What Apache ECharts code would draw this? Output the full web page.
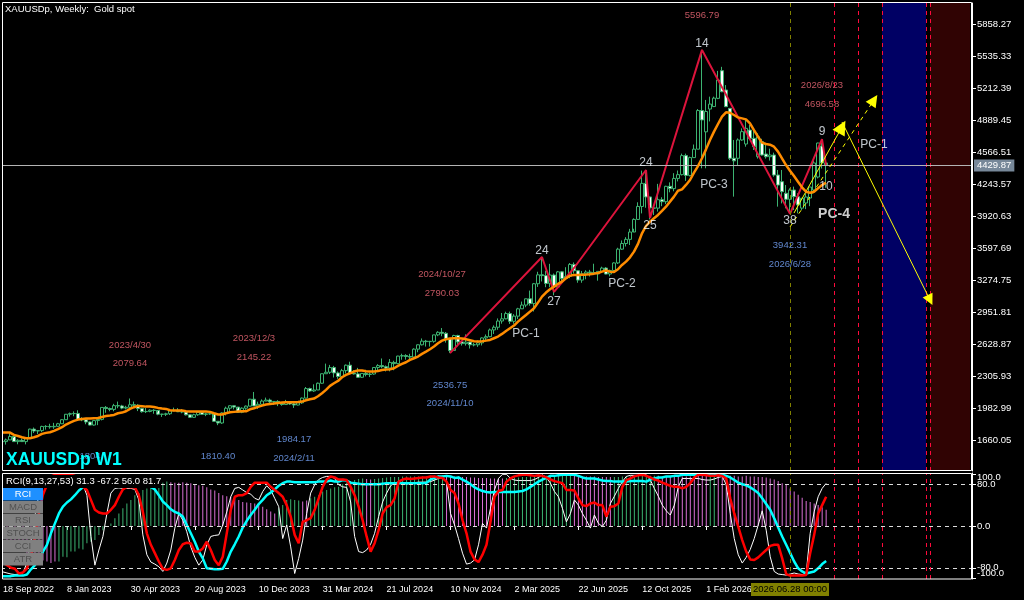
<!DOCTYPE html>
<html><head><meta charset="utf-8"><style>html,body{margin:0;padding:0;background:#000}#c{width:1024px;height:600px}</style>
<script src="https://cdn.jsdelivr.net/npm/echarts@6/dist/echarts.min.js"></script></head><body><div id="c"></div>
<script>
const weekCount=243;
const priceTicks=[5858.27,5535.33,5212.39,4889.45,4566.51,4243.57,3920.63,3597.69,3274.75,2951.81,2628.87,2305.93,1982.99,1660.05];
const paneTicks=[80,0,-80];
const paneLimitTicks=[100,-100];
const lastPrice=4429.87;
const opens=[1643,1644,1661,1695,1644,1657,1644,1681,1770,1751,
1755,1797,1797,1793,1798,1824,1865,1920,1926,1928,
1865,1865,1842,1811,1856,1868,1989,1978,1969,2007,
2004,1982,1990,2016,2011,1977,1946,1948,1961,1958,
1921,1919,1925,1955,1961,1945,1943,1914,1889,1915,
1940,1919,1924,1925,1849,1832,1933,1981,2006,1992,
1940,1981,2002,2072,2004,2020,2053,2063,2045,2049,
2029,2018,2039,2024,2013,2035,2083,2179,2155,2165,
2233,2329,2344,2391,2337,2301,2360,2415,2334,2327,
2293,2332,2321,2326,2392,2411,2400,2386,2443,2431,
2507,2512,2503,2497,2577,2621,2658,2653,2656,2721,
2747,2737,2685,2563,2715,2650,2633,2648,2621,2621,
2640,2690,2703,2771,2798,2861,2883,2936,2858,2910,
2984,3022,3085,3037,3237,3327,3319,3240,3325,3205,
3357,3290,3310,3432,3368,3274,3337,3355,3350,3337,
3362,3395,3335,3371,3447,3586,3643,3685,3759,3886,
4017,4250,4113,4002,4000,4085,4065,4220,4197,4300,
4338,4530,4330,4510,4595,4985,4770,5000,5025,5108,
5387,5192,5007,4503,4503,4688,4647,4788,4704,4519,
4671,4546,4519,4536,4334,4267,4150,4089,4183,4116,
4000,4052,4102,4183,4314,4627,4456];
const highs=[1688,1675,1729,1682,1668,1675,1682,1774,1786,1760,
1804,1810,1824,1833,1833,1870,1922,1937,1949,1960,
1890,1870,1846,1858,1870,1990,2003,1987,2025,2048,
2015,2005,2079,2048,2022,1985,1983,1970,1971,1937,
1925,1935,1963,1987,1982,1972,1948,1915,1925,1953,
1945,1932,1947,1880,1841,1940,1997,2009,2004,1970,
1990,2008,2075,2145,2047,2070,2088,2078,2050,2062,
2036,2065,2050,2035,2040,2089,2195,2188,2222,2240,
2331,2431,2418,2408,2352,2378,2422,2450,2365,2388,
2335,2368,2340,2394,2425,2483,2412,2477,2460,2510,
2531,2526,2530,2585,2625,2685,2670,2660,2722,2758,
2790,2750,2680,2722,2722,2655,2726,2652,2640,2665,
2696,2725,2785,2817,2887,2942,2955,2956,2930,2994,
3057,3087,3168,3245,3358,3500,3368,3438,3340,3366,
3365,3404,3446,3452,3368,3366,3373,3377,3439,3363,
3409,3405,3379,3453,3600,3674,3707,3791,3897,4059,
4379,4381,4046,4020,4245,4110,4226,4260,4353,4380,
4550,4550,4520,4642,5000,5597,5092,5125,5125,5385,
5426,5242,5010,4688,4704,4805,4889,4839,4805,4755,
4700,4637,4600,4560,4385,4385,4233,4200,4217,4150,
4100,4150,4213,4480,4660,4696.58,4520];
const lows=[1638,1614,1660,1640,1617,1640,1616,1670,1730,1720,
1740,1765,1774,1773,1795,1824,1865,1896,1900,1861,
1850,1819,1808,1805,1810,1858,1935,1950,1950,1981,
1970,1969,1977,2000,1952,1936,1932,1940,1925,1910,
1893,1902,1912,1950,1942,1930,1908,1884,1884,1904,
1915,1901,1914,1846,1810,1823,1908,1953,1969,1933,
1931,1965,2001,2002,1974,2015,2053,2022,2014,2002,
2006,2020,2015,1984,2010,2025,2080,2146,2146,2165,
2228,2330,2326,2291,2277,2298,2332,2325,2321,2286,
2286,2302,2295,2319,2350,2385,2352,2353,2364,2425,
2470,2471,2471,2484,2546,2614,2603,2603,2642,2708,
2707,2643,2537,2561,2605,2613,2613,2583,2605,2600,
2614,2656,2697,2730,2772,2834,2878,2832,2833,2880,
2982,3000,3015,2957,3205,3260,3202,3202,3120,3205,
3245,3276,3293,3340,3247,3247,3282,3310,3325,3268,
3345,3332,3311,3352,3436,3578,3613,3628,3792,3884,
3947,4004,3886,3931,3965,4020,4040,4160,4170,4270,
4330,4275,4320,4510,4595,4402,4402,4875,5020,5100,
5170,5020,4485,4116,4429,4680,4620,4700,4587,4500,
4530,4500,4480,4317,4015,4048,3998,3942,3981,3948,
3980,3990,4020,4150,4300,4400,4205];
const closes=[1644,1661,1695,1644,1657,1644,1681,1770,1751,1755,
1797,1797,1793,1798,1824,1865,1920,1926,1928,1865,
1865,1842,1811,1856,1868,1989,1978,1969,2007,2004,
1982,1990,2016,2011,1977,1946,1948,1961,1958,1921,
1919,1925,1955,1961,1945,1943,1914,1889,1915,1940,
1919,1924,1925,1849,1832,1933,1981,2006,1992,1940,
1981,2002,2072,2004,2020,2053,2063,2045,2049,2029,
2018,2039,2024,2013,2035,2083,2179,2155,2165,2233,
2329,2344,2391,2337,2301,2360,2415,2334,2327,2293,
2332,2321,2326,2392,2411,2400,2386,2443,2431,2507,
2512,2503,2497,2577,2621,2658,2653,2656,2721,2747,
2737,2685,2563,2715,2650,2633,2648,2621,2621,2640,
2690,2703,2771,2798,2861,2883,2936,2858,2910,2984,
3022,3085,3037,3237,3327,3319,3240,3325,3205,3357,
3290,3310,3432,3368,3274,3337,3355,3350,3337,3362,
3395,3335,3371,3447,3586,3643,3685,3759,3886,4017,
4250,4113,4002,4000,4085,4065,4220,4197,4300,4338,
4530,4330,4510,4595,4985,4890,4975,5050,5110,5293,
5175,5024,4503,4477,4688,4772,4805,4704,4620,4721,
4536,4519,4536,4334,4233,4166,4089,4183,4116,4032,
4100,4112,4213,4456,4657,4456,4429.87];
const maLine=[1735,1735,1735,1712,1701,1688,1678,1678,1688,1701,
1722,1732,1738,1752,1769,1789,1816,1836,1853,1866,
1873,1876,1876,1880,1883,1893,1903,1907,1913,1930,
1937,1950,1974,1991,2004,2001,1997,1997,1994,1984,
1977,1974,1960,1957,1957,1957,1950,1947,1947,1947,
1947,1947,1944,1930,1917,1917,1930,1940,1944,1947,
1950,1950,1970,1981,1994,2007,2018,2024,2028,2034,
2038,2041,2041,2041,2044,2048,2061,2071,2078,2102,
2132,2166,2206,2233,2256,2293,2317,2334,2351,2361,
2361,2354,2351,2351,2357,2367,2371,2374,2384,2408,
2428,2445,2468,2485,2502,2529,2552,2576,2603,2636,
2663,2677,2684,2687,2687,2684,2677,2667,2657,2653,
2657,2663,2670,2687,2704,2731,2761,2788,2815,2855,
2889,2922,2956,2990,3047,3107,3148,3181,3208,3235,
3259,3292,3319,3326,3326,3329,3329,3333,3339,3346,
3359,3370,3359,3356,3383,3427,3460,3504,3561,3639,
3746,3820,3864,3898,3931,3972,4015,4066,4116,4176,
4190,4234,4284,4358,4425,4503,4593,4688,4772,4849,
4923,4967,4963,4940,4916,4906,4896,4856,4788,4721,
4661,4647,4640,4620,4570,4503,4435,4378,4324,4267,
4210,4166,4156,4166,4200,4233,4257];
const zigzagBar=[112,135,138,143,161,162,175,197,205,206];
const zigzagPrice=[2536.75,3507,3154,3396,4385,3901,5596.79,3942.31,4696.58,4435];
const eventBars=[208,214,220,231,232];
const cursorBar=197;
const blueBand=[220,231];
const redBand=[232,242];
const solidUp=[[198,3951],[210,4819]];
const dashedUp=[[197,3810],[218,5091]];
const solidDown=[[210,4869],[232,3073]];
const pinkText=['5596.79','2026/8/23','4696.58','2024/10/27','2790.03','2023/12/3','2145.22','2023/4/30','2079.64'];
const pinkBar=[175,205,205,110,110,63,63,32,32];
const pinkPrice=[5949,5243,5051,3336,3144,2690,2498,2619,2438];
const blueText=['1984.17','2024/2/11','1810.40','1804','2536.75','2024/11/10','3942.31','2026/6/28'];
const blueBar=[73,73,54,22,112,112,197,197];
const bluePrice=[1671,1479,1499,1499,2216,2034,3628,3437];
const waveText=['14','24','24','27','25','9','10','38','PC-1','PC-2','PC-3','PC-1'];
const waveBar=[175,161,135,138,162,205,206,197,131,155,178,218];
const wavePrice=[5656,4455,3568,3055,3820,4767,4215,3870,2730,3235,4235,4645];
const boldText=['PC-4'];
const boldBar=[208];
const boldPrice=[3940];
const rciHist=[-22,-28,-33,-38,-43,-48,-52,-56,-60,-63,
-66,-68,-71,-68,-68,-59,-60,-49,-49,-43,
-45,-33,-30,-27,-17,-8,-1,5,15,24,
34,43,50,59,63,69,72,75,79,82,
83,85,84,83,83,84,83,82,80,78,
77,74,70,68,63,59,57,56,53,50,
46,45,44,43,40,37,32,28,24,34,
40,50,51,50,49,47,49,53,56,59,
66,69,72,74,75,80,83,86,88,90,
91,90,89,90,91,92,93,94,94,94,
95,95,95,95,95,95,95,96,96,97,
97,96,96,95,95,94,94,93,93,92,
92,92,91,91,91,91,92,92,93,93,
94,94,95,95,95,96,96,96,96,96,
97,97,97,96,96,95,95,95,95,94,
94,94,94,94,94,95,95,96,96,97,
97,97,96,96,96,95,95,95,95,95,
95,95,95,95,96,96,96,97,97,97,
96,96,96,96,95,95,96,95,95,94,
94,93,91,89,86,82,79,72,66,60,
54,48,46,43,40,36,31.3];
const fallingRanges=[[0,13],[42,68],[75,76],[91,92],[111,125],[143,152],[164,176],[179,206]];
const rciFast=[-88,-90,-92,-93,-92,-90,-70,-30,20,60,
85,90,92,92,92,92,92,91,91,90,
79,59,-20,-75,-46,-20,24,63,72,73,
72,72,72,70,50,-17,-55,-69,-73,-78,
-87,-71,-46,-4,24,11,-11,-40,-60,-75,
-65,-36,-20,-18,-17,2,27,56,72,74,
69,64,61,53,50,66,77,69,53,37,
-24,2,-40,-91,-62,-27,24,63,79,89,
93,95,95,91,79,75,74,46,-20,-49,
-51,-46,-35,-14,18,46,63,77,83,84,
83,80,82,83,84,84,84,85,88,91,
91,85,24,2,-24,-52,-73,-71,-65,-36,
5,-4,34,69,91,99,99,91,88,87,
87,87,87,89,93,98,93,82,66,56,
34,8,24,50,40,24,11,-4,21,5,
-1,11,43,57,72,85,95,97,97,97,
98,98,88,72,57,40,29,21,40,75,
91,91,91,91,91,89,88,88,90,93,
95,79,24,-24,-55,-71,-60,-45,-24,2,
29,-8,-59,-87,-92,-93,-94,-92,-90,-92,
-93,-91,-14,27,56,72,81.7];
const rciMid=[-70,-75,-80,-82,-91,-89,-81,-60,-20,25,
60,79,95,98,99,99,99,98,96,85,
75,69,50,31,26,24,24,31,40,56,
70,75,74,74,59,27,-14,-36,-52,-68,
-82,-84,-81,-65,-46,-35,-32,-33,-49,-49,
-43,-30,-46,-65,-75,-59,-14,31,56,59,
59,63,75,83,83,83,83,75,69,63,
56,40,18,-17,-33,8,11,15,31,53,
75,89,95,93,89,89,88,75,59,37,
11,-20,-49,-33,-8,24,36,40,53,85,
89,91,90,91,92,93,93,95,95,93,
92,85,69,63,43,11,-14,-49,-64,-69,
-55,-36,8,56,67,69,85,91,95,97,
98,98,97,96,97,96,93,89,86,84,
82,69,69,68,53,40,38,43,45,40,
40,18,37,38,43,75,88,91,95,97,
98,96,93,89,87,83,80,77,75,75,
72,75,82,93,98,98,97,96,96,97,
96,91,53,24,-1,-27,-49,-64,-65,-60,
-53,-46,-38,-36,-36,-62,-92,-95,-95,-95,
-95,-94,-52,-17,24,40,56];
const rciSlow=[-96,-96,-96,-95,-95,-95,-93,-83,-75,-62,
-49,-36,-14,5,24,37,45,51,59,68,
74,80,84,86,88,88,88,88,88,87,
86,85,84,83,82,80,78,75,70,59,
47,40,32,27,24,18,2,-14,-30,-49,
-62,-81,-82,-83,-83,-82,-68,-49,-35,-20,
-3,10,21,31,42,50,59,64,70,77,
82,85,85,84,84,84,84,84,84,85,
85,85,87,85,85,88,87,83,82,81,
80,80,80,80,80,81,82,82,82,82,
82,82,82,82,82,82,83,89,92,95,
95,96,95,92,93,89,85,80,74,70,
67,65,64,65,65,65,65,65,65,66,
67,70,75,80,85,89,92,96,96,97,
98,98,98,98,96,93,91,91,91,89,
87,86,86,85,85,85,85,86,86,86,
86,85,89,91,93,93,95,95,96,96,
98,98,98,98,98,98,98,98,98,98,
98,96,93,88,83,80,78,74,69,63,
53,42,31,15,-3,-20,-36,-52,-68,-81,
-87,-91,-89,-87,-81,-73,-67.2];
const tickLabelEvery=16;
const lastTickBar=192;
const buttonLabels=['RCI','MACD','RSI','STOCH','CCI','ATR'];
const headerText='XAUUSDp, Weekly:  Gold spot';
const symbolText='XAUUSDp W1';
const rciText='RCI(9,13,27,53) 31.3 -67.2 56.0 81.7';
const cursorText='2026.06.28 00:00';

const FONT='"Liberation Sans", Arial, sans-serif';
const MONTHS=['Jan','Feb','Mar','Apr','May','Jun','Jul','Aug','Sep','Oct','Nov','Dec'];
const categories=[];
for(let i=0;i<weekCount;i++){const d=new Date(Date.UTC(2022,8,18+7*i));categories.push(d.getUTCDate()+' '+MONTHS[d.getUTCMonth()]+' '+d.getUTCFullYear());}
const candle=opens.map((o,i)=>[o,closes[i],lows[i],highs[i]]);
const fallingAt=i=>fallingRanges.some(r=>i>=r[0]&&i<=r[1]);
const hist=rciHist.map((v,i)=>({value:v,itemStyle:{color:fallingAt(i)?'#da70d6':'#3cb371'}}));
const pts=(bars,prices)=>bars.map((b,i)=>[b,prices[i]]);
const textSeries=(texts,bars,prices,color,size,bold)=>({type:'scatter',xAxisIndex:0,yAxisIndex:0,symbolSize:0,silent:true,z:8,clip:false,
 data:texts.map((t,i)=>({value:[bars[i],prices[i]],label:{show:true,position:'inside',formatter:t,color:color,fontFamily:FONT,fontSize:size,fontWeight:bold?'bold':'normal'}}))});
const vLines=bars=>bars.map(b=>({xAxis:categories[b],lineStyle:{color:'#ff0a3c',type:[4,4],width:1}}));
const cursorLine={xAxis:categories[cursorBar],lineStyle:{color:'#808000',type:[4,4],width:1}};
const arrow=(seg,type,size)=>[{coord:seg[0],symbol:'none',lineStyle:{color:'#ffff00',width:1,type:type}},{coord:seg[1],symbol:'triangle',symbolSize:size}];
const graphic=[];
const frame=(x,y,w,h)=>graphic.push({type:'rect',z:50,silent:true,shape:{x:x,y:y,width:w,height:h},style:{fill:'none',stroke:'#fff',lineWidth:1}});
graphic.push({type:'rect',z:49,silent:true,shape:{x:0,y:0,width:2,height:600},style:{fill:'#000'}});
frame(2.5,2.5,969,468);frame(2.5,473.5,969,105.5);
graphic.push({type:'text',z:60,silent:true,left:5,top:4,style:{text:headerText,fill:'#fff',font:'9.5px '+FONT}});
graphic.push({type:'text',z:60,silent:true,left:6,top:451,style:{text:symbolText,fill:'#00ffff',font:'bold 17.5px '+FONT}});
graphic.push({type:'rect',z:55,silent:true,shape:{x:3,y:475,width:158,height:13},style:{fill:'#000'}});
graphic.push({type:'text',z:60,silent:true,left:6,top:476,style:{text:rciText,fill:'#fff',font:'9.5px '+FONT}});
buttonLabels.forEach((t,i)=>{const y=488+13*i;
 graphic.push({type:'rect',z:56,silent:true,shape:{x:3,y:y,width:40,height:12.5},style:{fill:i===0?'#1e90ff':'#808080'}});
 graphic.push({type:'text',z:60,silent:true,x:23,y:y+6.5,style:{text:t,fill:i===0?'#fff':'#505050',font:'9.5px '+FONT,textAlign:'center',textVerticalAlign:'middle'}});});
graphic.push({type:'rect',z:56,silent:true,shape:{x:751,y:583,width:78,height:13},style:{fill:'#808000'}});
graphic.push({type:'text',z:60,silent:true,x:790,y:589.5,style:{text:cursorText,fill:'#000',font:'9.5px '+FONT,textAlign:'center',textVerticalAlign:'middle'}});

const axisText={color:'#fff',fontFamily:FONT,fontSize:9.5};
const tickShown=i=>i%tickLabelEvery===0&&i<=lastTickBar;
const option={animation:false,backgroundColor:'#000',graphic:graphic,
 grid:[{left:0,top:3,width:972,height:468,show:false},{left:0,top:473,width:972,height:106,show:false}],
 xAxis:[
  {type:'category',gridIndex:0,data:categories,axisLine:{show:false},axisTick:{show:false},axisLabel:{show:false},splitLine:{show:false}},
  {type:'category',gridIndex:1,data:categories,axisLine:{show:false},splitLine:{show:false},
   axisTick:{show:true,alignWithLabel:true,interval:tickShown,length:4,lineStyle:{color:'#fff'}},
   axisLabel:Object.assign({show:true,interval:tickShown,align:'left',margin:6,hideOverlap:false},axisText,{fontSize:9})}],
 yAxis:[
  {type:'value',gridIndex:0,position:'right',min:1347.3,max:6070.2,scale:true,splitLine:{show:false},axisLine:{show:true,lineStyle:{color:'#fff'}},
   axisTick:{show:true,length:4,customValues:priceTicks,lineStyle:{color:'#fff'}},
   axisLabel:Object.assign({customValues:priceTicks,margin:5,formatter:v=>v.toFixed(2),showMinLabel:true,showMaxLabel:true},axisText)},
  {type:'value',gridIndex:1,position:'right',min:-101.5,max:101.5,splitLine:{show:false},axisLine:{show:true,lineStyle:{color:'#fff'}},
   axisTick:{show:true,length:4,customValues:paneTicks,lineStyle:{color:'#fff'}},
   axisLabel:Object.assign({customValues:paneTicks,margin:5,showMinLabel:true,showMaxLabel:true,formatter:v=>v.toFixed(1)},axisText)},
  {type:'value',gridIndex:1,position:'right',min:-101.5,max:101.5,splitLine:{show:false},axisLine:{show:false},
   axisTick:{show:true,length:4,customValues:paneLimitTicks,lineStyle:{color:'#fff'}},
   axisLabel:Object.assign({customValues:paneLimitTicks,margin:5,showMinLabel:true,showMaxLabel:true,
    formatter:v=>v===100?'{d|100.0}':'{u|-100.0}',
    rich:{d:{padding:[8,0,0,0],color:'#fff',fontFamily:FONT,fontSize:9.5},u:{padding:[0,0,10,0],color:'#fff',fontFamily:FONT,fontSize:9.5}}},axisText)}],
 series:[
  {type:'line',xAxisIndex:0,yAxisIndex:0,data:[],z:1,silent:true,symbol:'none',
   markArea:{silent:true,data:[
    [{xAxis:categories[blueBand[0]],itemStyle:{color:'#000064'}},{xAxis:categories[blueBand[1]]}],
    [{xAxis:categories[redBand[0]],itemStyle:{color:'#300303'}},{xAxis:categories[redBand[1]]}]]},
   markLine:{silent:true,symbol:'none',label:{show:false},animation:false,data:[cursorLine].concat(vLines(eventBars))}},
  {type:'candlestick',xAxisIndex:0,yAxisIndex:0,data:candle,barWidth:3,z:3,silent:true,
   itemStyle:{color:'#000',color0:'#fff',borderColor:'#3cb371',borderColor0:'#3cb371',borderWidth:1},
   markLine:{silent:true,symbol:'none',animation:false,data:[{yAxis:lastPrice,lineStyle:{color:'#b4b4b4',type:'solid',width:1},
    label:{show:true,position:'end',formatter:lastPrice.toFixed(2),distance:2,color:'#fff',backgroundColor:'#778899',padding:[1,3],fontFamily:FONT,fontSize:9.5}}]}},
  {type:'line',xAxisIndex:0,yAxisIndex:0,data:pts(zigzagBar,zigzagPrice),symbol:'none',z:4,silent:true,lineStyle:{color:'#dc143c',width:2}},
  {type:'line',xAxisIndex:0,yAxisIndex:0,data:maLine,symbol:'none',z:5,silent:true,lineStyle:{color:'#ff8c00',width:2.5}},
  {type:'line',xAxisIndex:0,yAxisIndex:0,data:[],symbol:'none',z:6,silent:true,
   markLine:{silent:true,animation:false,label:{show:false},data:[arrow(solidUp,'solid',14),arrow(solidDown,'solid',11),arrow(dashedUp,[4,4],12)]}},
  textSeries(pinkText,pinkBar,pinkPrice,'#f06a78',9.5),
  textSeries(blueText,blueBar,bluePrice,'#78a8ff',9.5),
  textSeries(waveText,waveBar,wavePrice,'#f0f8ff',12),
  textSeries(boldText,boldBar,boldPrice,'#ffffff',14,true),
  {type:'bar',xAxisIndex:1,yAxisIndex:1,data:hist,barWidth:1,z:1,silent:true},
  {type:'line',xAxisIndex:1,yAxisIndex:1,data:[],z:2,silent:true,symbol:'none',
   markLine:{silent:true,symbol:'none',animation:false,label:{show:false},data:[
    {yAxis:80,lineStyle:{color:'#ddd',type:[4,4],width:1}},{yAxis:0,lineStyle:{color:'#ddd',type:[4,4],width:1}},{yAxis:-80,lineStyle:{color:'#ddd',type:[4,4],width:1}},
    cursorLine].concat(vLines(eventBars))}},
  {type:'line',xAxisIndex:1,yAxisIndex:1,data:rciFast,symbol:'none',z:3,silent:true,lineStyle:{color:'#fff',width:1}},
  {type:'line',xAxisIndex:1,yAxisIndex:1,data:rciSlow,symbol:'none',z:4,silent:true,lineStyle:{color:'#00ffff',width:2.5}},
  {type:'line',xAxisIndex:1,yAxisIndex:1,data:rciMid,symbol:'none',z:5,silent:true,lineStyle:{color:'#ff0000',width:2.5}}
 ]};
echarts.init(document.getElementById('c'),null,{renderer:'canvas'}).setOption(option);
</script></body></html>
